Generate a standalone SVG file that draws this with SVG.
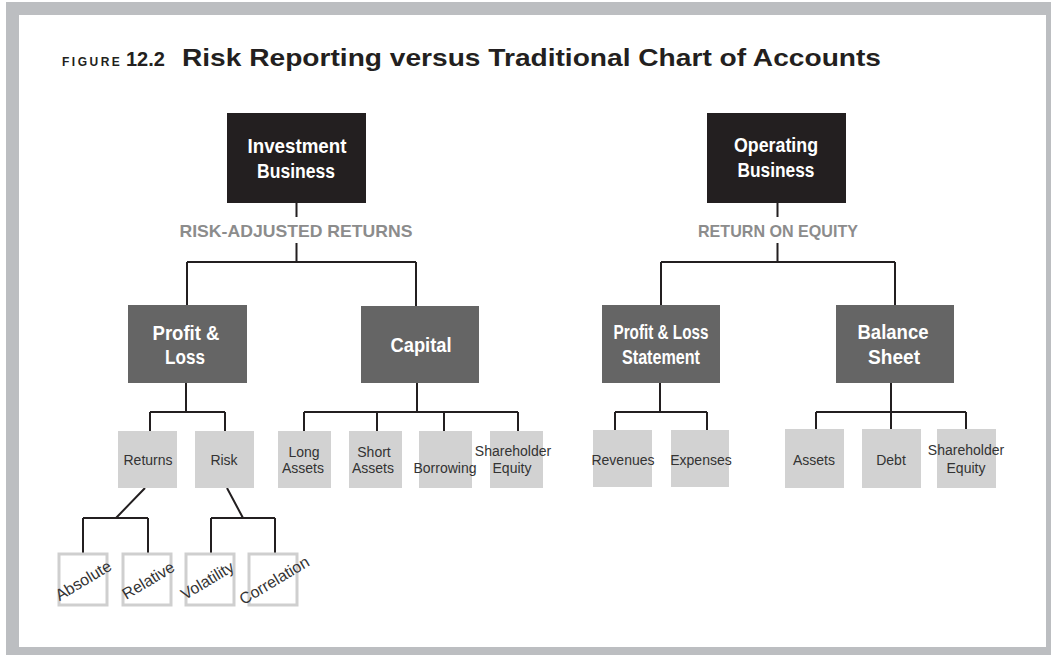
<svg xmlns="http://www.w3.org/2000/svg" width="1051" height="655" viewBox="0 0 1051 655">
<style>
.frame{fill:#bcbec1}
.bg{fill:#ffffff}
.top{fill:#231f20}
.mid{fill:#656565}
.leaf{fill:#d2d2d2}
.out{fill:#ffffff;stroke:#cfcfcf;stroke-width:3}
.bt{font-family:"Liberation Sans",Arial,sans-serif;font-weight:bold;font-size:20px;fill:#ffffff;text-anchor:middle}
.lab{font-family:"Liberation Sans",Arial,sans-serif;font-weight:bold;font-size:17px;fill:#8c8c8c;text-anchor:middle}
.lt{font-family:"Liberation Sans",Arial,sans-serif;font-size:14px;fill:#333333;text-anchor:middle}
.rt{font-family:"Liberation Sans",Arial,sans-serif;font-size:16px;fill:#333333;text-anchor:middle}
.conn{fill:none;stroke:#231f20;stroke-width:2}
</style>
<rect class="frame" x="6" y="2" width="1045" height="653"/>
<rect class="bg" x="19" y="15" width="1027" height="632"/>
<g id="title">
<text x="62" y="66" font-family="Liberation Sans, Arial, sans-serif" font-size="12" font-weight="bold" letter-spacing="2.5" fill="#231f20">FIGURE</text>
<text x="126" y="66" font-family="Liberation Sans, Arial, sans-serif" font-size="20" font-weight="bold" fill="#231f20">12.2</text>
<text x="182" y="66" font-family="Liberation Sans, Arial, sans-serif" font-size="24" font-weight="bold" fill="#231f20" textLength="699" lengthAdjust="spacingAndGlyphs">Risk Reporting versus Traditional Chart of Accounts</text>
</g>
<g id="connectors">
<path class="conn" d="M296.5 203V217M296.5 243V262M187 262H416M187 262V305M416 262V306"/>
<path class="conn" d="M777.5 203V217M777.5 243V262M661 262H895M661 262V305M895 262V305"/>
<path class="conn" d="M186 383V412M150 412H225M150 412V431M225 412V431"/>
<path class="conn" d="M417 383V412M304 412H518M304 412V431M377 412V431M444 412V431M518 412V431"/>
<path class="conn" d="M660 383V412M615 412H707M615 412V431M707 412V431"/>
<path class="conn" d="M891 383V412M816 412H966M816 412V430M891 412V430M966 412V430"/>
<path class="conn" d="M145 488L116 518M83 518H148M83 518V553M148 518V553"/>
<path class="conn" d="M227 488L243 518M211 518H275M211 518V553M275 518V553"/>
</g>
<g id="investment-business">
<rect class="top" x="227" y="113" width="139" height="90"/>
<text class="bt" x="297" y="153" textLength="99" lengthAdjust="spacingAndGlyphs">Investment</text>
<text class="bt" x="296" y="178" textLength="78" lengthAdjust="spacingAndGlyphs">Business</text>
</g>
<g id="risk-adjusted-returns">
<text class="lab" x="296" y="237" textLength="233" lengthAdjust="spacingAndGlyphs">RISK-ADJUSTED RETURNS</text>
</g>
<g id="operating-business">
<rect class="top" x="707" y="113" width="139" height="90"/>
<text class="bt" x="776" y="152" textLength="84" lengthAdjust="spacingAndGlyphs">Operating</text>
<text class="bt" x="776" y="177" textLength="77" lengthAdjust="spacingAndGlyphs">Business</text>
</g>
<g id="return-on-equity">
<text class="lab" x="778" y="237" textLength="160" lengthAdjust="spacingAndGlyphs">RETURN ON EQUITY</text>
</g>
<g id="profit-loss">
<rect class="mid" x="128" y="305" width="119" height="78"/>
<text class="bt" x="186" y="340" textLength="67" lengthAdjust="spacingAndGlyphs">Profit &amp;</text>
<text class="bt" x="185" y="364" textLength="40" lengthAdjust="spacingAndGlyphs">Loss</text>
</g>
<g id="capital">
<rect class="mid" x="361" y="306" width="118" height="77"/>
<text class="bt" x="421" y="352" textLength="61" lengthAdjust="spacingAndGlyphs">Capital</text>
</g>
<g id="pl-statement">
<rect class="mid" x="602" y="305" width="118" height="78"/>
<text class="bt" x="661" y="339" textLength="95" lengthAdjust="spacingAndGlyphs">Profit &amp; Loss</text>
<text class="bt" x="661" y="364" textLength="78" lengthAdjust="spacingAndGlyphs">Statement</text>
</g>
<g id="balance-sheet">
<rect class="mid" x="836" y="305" width="118" height="78"/>
<text class="bt" x="893" y="339" textLength="71" lengthAdjust="spacingAndGlyphs">Balance</text>
<text class="bt" x="894" y="364" textLength="52" lengthAdjust="spacingAndGlyphs">Sheet</text>
</g>
<g id="returns">
<rect class="leaf" x="118" y="431" width="59" height="57"/>
<text class="lt" x="148" y="465">Returns</text>
</g>
<g id="risk">
<rect class="leaf" x="195" y="431" width="59" height="57"/>
<text class="lt" x="224" y="465">Risk</text>
</g>
<g id="long-assets">
<rect class="leaf" x="278" y="431" width="53" height="57"/>
<text class="lt" x="304" y="457">Long</text>
<text class="lt" x="303" y="473">Assets</text>
</g>
<g id="short-assets">
<rect class="leaf" x="349" y="431" width="53" height="57"/>
<text class="lt" x="374" y="457">Short</text>
<text class="lt" x="373" y="473">Assets</text>
</g>
<g id="borrowing">
<rect class="leaf" x="419" y="431" width="53" height="57"/>
<text class="lt" x="445" y="473">Borrowing</text>
</g>
<g id="shareholder-equity-1">
<rect class="leaf" x="490" y="431" width="53" height="57"/>
<text class="lt" x="513" y="456">Shareholder</text>
<text class="lt" x="512" y="473">Equity</text>
</g>
<g id="revenues">
<rect class="leaf" x="593" y="430" width="59" height="57"/>
<text class="lt" x="623" y="465">Revenues</text>
</g>
<g id="expenses">
<rect class="leaf" x="671" y="430" width="58" height="57"/>
<text class="lt" x="701" y="465">Expenses</text>
</g>
<g id="assets">
<rect class="leaf" x="785" y="429" width="59" height="59"/>
<text class="lt" x="814" y="465">Assets</text>
</g>
<g id="debt">
<rect class="leaf" x="862" y="429" width="59" height="59"/>
<text class="lt" x="891" y="465">Debt</text>
</g>
<g id="shareholder-equity-2">
<rect class="leaf" x="937" y="429" width="59" height="59"/>
<text class="lt" x="966" y="455">Shareholder</text>
<text class="lt" x="966" y="473">Equity</text>
</g>
<g id="absolute">
<rect class="out" x="59" y="554" width="48" height="51"/>
<text class="rt" x="83" y="586" transform="rotate(-31 83 580)">Absolute</text>
</g>
<g id="relative">
<rect class="out" x="123" y="554" width="48" height="51"/>
<text class="rt" x="148" y="586" transform="rotate(-31 148 580)">Relative</text>
</g>
<g id="volatility">
<rect class="out" x="186" y="554" width="48" height="51"/>
<text class="rt" x="207" y="586" transform="rotate(-31 207 580)">Volatility</text>
</g>
<g id="correlation">
<rect class="out" x="249" y="554" width="48" height="51"/>
<text class="rt" x="274" y="586" transform="rotate(-31 274 580)">Correlation</text>
</g>
</svg>
